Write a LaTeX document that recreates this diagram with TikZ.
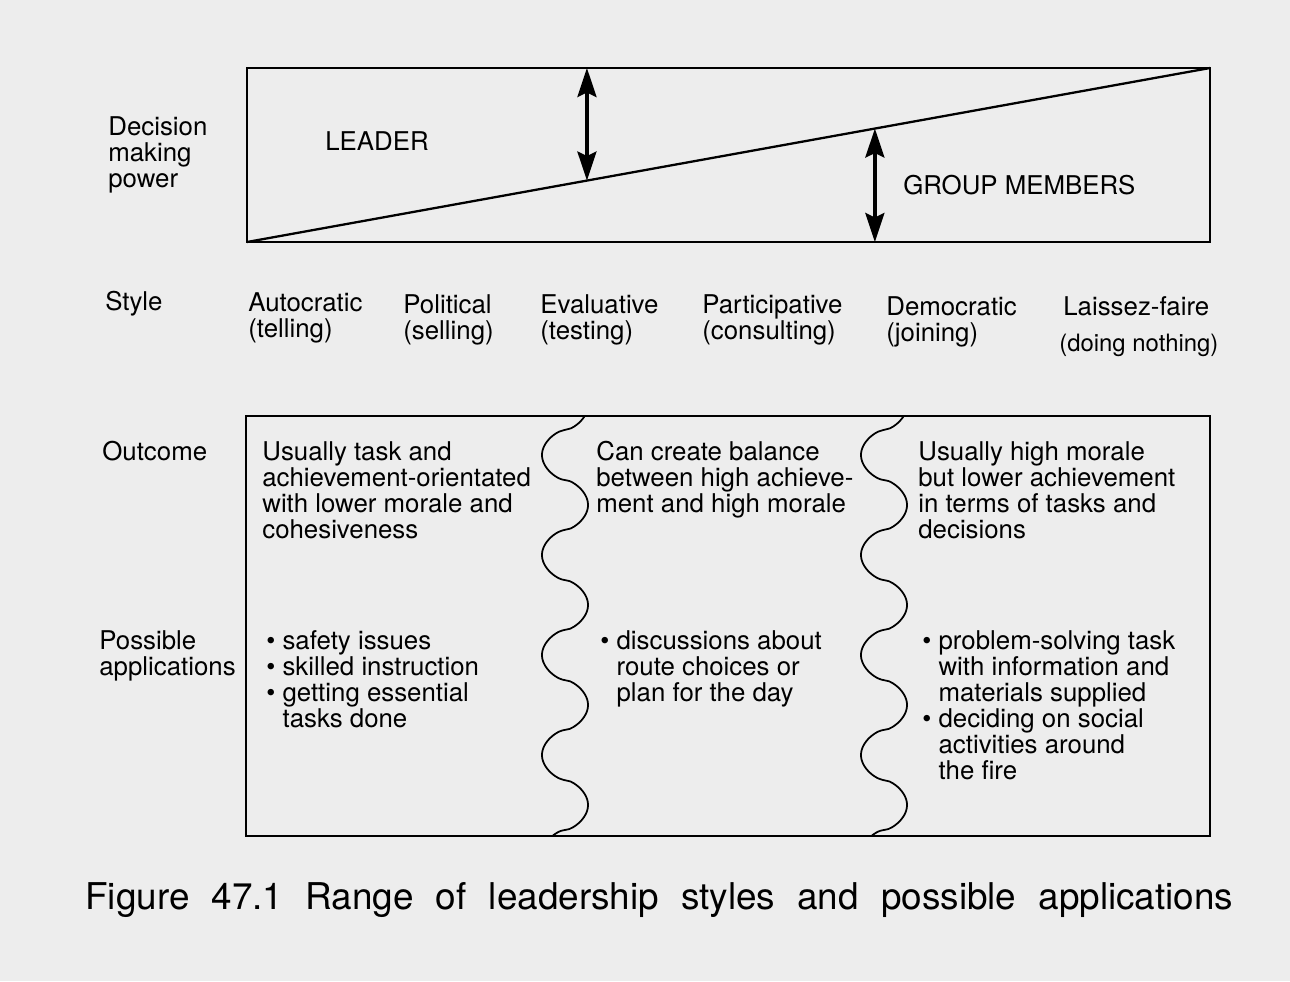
\documentclass[tikz,border=0pt]{standalone}
\usepackage{fontspec}
\setmainfont{TeX Gyre Heros}
\usepackage{tikz}
\usetikzlibrary{positioning}
\usetikzlibrary{calc}
\usetikzlibrary{arrows.meta}
\newcommand{\cellfont}{\fontsize{14.7}{14.8}\selectfont}
\newcommand{\capfont}{\fontsize{21}{24}\selectfont\spaceskip=0.6em plus 0.1em}
\newcommand{\bul}{\textbullet\ }

\begin{document}
\begin{tikzpicture}[x=0.02cm,y=-0.02cm,
		txt/.style={anchor=north west,inner sep=0pt,align=left,font=\cellfont},
		frame/.style={draw=black,line width=1.6pt},
		slope/.style={draw=black,line width=1.3pt},
		wave/.style={draw=black,line width=1pt},
		power/.style={line width=2pt,{Stealth[length=5.8mm,width=3.8mm,inset=0.9mm]}-{Stealth[length=5.8mm,width=3.8mm,inset=0.9mm]}}]
		\fill[black!7] (0,0) rectangle (1290,981);
		\useasboundingbox (0,0) rectangle (1290,981);
		
		\coordinate (ptl) at (247,68);
		\coordinate (pbr) at (1210,242);
		\draw[frame] (ptl) rectangle (pbr);
		\draw[slope] (ptl |- pbr) -- (pbr |- ptl);
		\coordinate (s1) at ($(ptl |- pbr)!0.353!(pbr |- ptl)$);
		\coordinate (s2) at ($(ptl |- pbr)!0.652!(pbr |- ptl)$);
		\draw[power] (s1) -- (s1 |- ptl);
		\draw[power] (s2) -- (s2 |- pbr);
		
		\node[txt]  (dec)      at (108,116)  {Decision\\making\\power};
		\node[txt]  (leader)   at (325,131)  {LEADER};
		\node[txt]  (members)  at (903,175)  {GROUP MEMBERS};
		
		\node[txt]  (style)    at (105,291)  {Style};
		\node[txt]  (auto)     at (248,292)  {Autocratic\\(telling)};
		\node[txt]  (poli)     at (403,294)  {Political\\(selling)};
		\node[txt]  (eval)     at (540,294)  {Evaluative\\(testing)};
		\node[txt]  (part)     at (702,294)  {Participative\\(consulting)};
		\node[txt]  (demo)     at (886,296)  {Democratic\\(joining)};
		\node[txt]  (laissez)  at (1063,296) {Laissez-faire};
		\node[txt,font=\fontsize{13.6}{14}\selectfont] (doing) [below=0.36cm of laissez.south west,anchor=north west,xshift=-0.08cm] {(doing nothing)};
		
		\coordinate (qtl) at (246,416);
		\coordinate (qbr) at (1210,836);
		\draw[frame] (qtl) rectangle (qbr);
		\draw[wave] plot[domain=416:836,samples=240,smooth] ({565-23*sign(cos(3.6*(\x-455)))*abs(cos(3.6*(\x-455)))^0.6},\x);
		\draw[wave] plot[domain=416:836,samples=240,smooth] ({884-23*sign(cos(3.6*(\x-455)))*abs(cos(3.6*(\x-455)))^0.6},\x);
		
		\node[txt]  (outcome)  at (102,441)  {Outcome};
		\node[txt]  (col1)     at (262,441)  {Usually task and\\achievement-orientated\\with lower morale and\\cohesiveness};
		\node[txt]  (col2)     at (596,441)  {Can create balance\\between high achieve-\\ment and high morale};
		\node[txt]  (col3)     at (918,441)  {Usually high morale\\but lower achievement\\in terms of tasks and\\decisions};
		
		\node[txt]  (possible) [below=3.78cm of outcome.north west,anchor=north west,xshift=-0.06cm] {Possible\\applications};
		\node[txt]  (apps1)    [below=3.78cm of col1.north west,anchor=north west,xshift=0.08cm] {\bul safety issues\\\bul skilled instruction\\\bul getting essential\\\phantom{\bul}tasks done};
		\node[txt]  (apps2)    [below=3.78cm of col2.north west,anchor=north west,xshift=0.08cm] {\bul discussions about\\\phantom{\bul}route choices or\\\phantom{\bul}plan for the day};
		\node[txt]  (apps3)    [below=3.78cm of col3.north west,anchor=north west,xshift=0.08cm] {\bul problem-solving task\\\phantom{\bul}with information and\\\phantom{\bul}materials supplied\\\bul deciding on social\\\phantom{\bul}activities around\\\phantom{\bul}the fire};
		
		\node[txt,font=\capfont] (caption) at (85,882) {Figure 47.1 Range of leadership styles and possible applications};
\end{tikzpicture}
\end{document}
